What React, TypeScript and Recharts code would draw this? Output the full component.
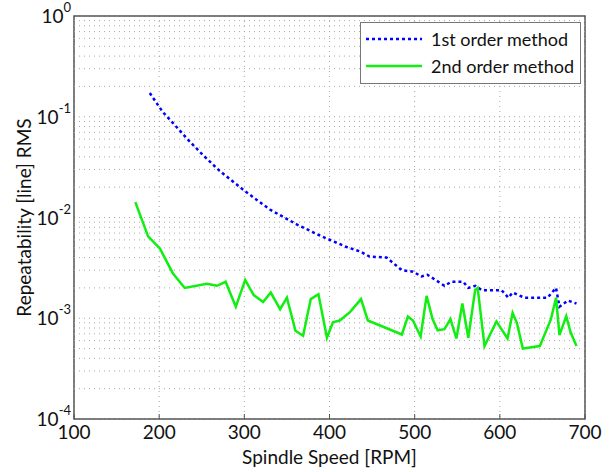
import React from 'react';
import { LineChart, Line, XAxis, YAxis, CartesianGrid, ReferenceLine, ReferenceArea } from 'recharts';

// spindle speed [RPM] / repeatability RMS
const firstOrderSpeed = [189, 204, 216, 234, 251, 271, 301, 330, 362, 389, 420, 436, 447, 467, 485, 498, 508, 515, 535, 543, 557, 563, 571, 579, 602, 610, 615, 629, 656, 666, 670, 680, 690];
const firstOrderRms = [0.172, 0.112, 0.087, 0.059, 0.042, 0.029, 0.0182, 0.012, 0.0085, 0.0066, 0.0051, 0.0046, 0.0041, 0.004, 0.003, 0.0029, 0.0026, 0.0027, 0.0021, 0.0023, 0.0023, 0.002, 0.0021, 0.0019, 0.0019, 0.0016, 0.0018, 0.0016, 0.0016, 0.002, 0.0013, 0.0015, 0.0014];

const secondOrderSpeed = [172, 187, 201, 216, 230, 256, 268, 278, 290, 301, 311, 322, 331, 342, 350, 360, 369, 378, 387, 397, 404, 412, 424, 437, 445, 485, 492, 498, 507, 514, 521, 527, 535, 542, 549, 556, 563, 571, 574, 582, 596, 609, 615, 620, 627, 647, 660, 666, 670, 678, 683, 690];
const secondOrderRms = [0.0142, 0.0065, 0.0049, 0.0028, 0.002, 0.0022, 0.0021, 0.0023, 0.0013, 0.0024, 0.0017, 0.00145, 0.0018, 0.00123, 0.0016, 0.00075, 0.00067, 0.00155, 0.00173, 0.00064, 0.00091, 0.00095, 0.00115, 0.00155, 0.00095, 0.00069, 0.00104, 0.00095, 0.00066, 0.00167, 0.00098, 0.00076, 0.00078, 0.00098, 0.00063, 0.0014, 0.00064, 0.0019, 0.002, 0.00053, 0.00093, 0.00063, 0.00113, 0.0009, 0.0005, 0.00053, 0.00098, 0.0016, 0.00068, 0.00105, 0.00073, 0.00053];

const xTicks = [100, 200, 300, 400, 500, 600, 700];
const decadeExponents = [-4, -3, -2, -1, 0];
const minorMultipliers = [2, 3, 4, 5, 6, 7, 8, 9];

const seriesNames = ['1st order method', '2nd order method'];

const FONT = 'Lato, "Open Sans", sans-serif';
const GRID = '#a8a8a8';

const firstData = firstOrderSpeed.map((x, i) => ({ x, y: firstOrderRms[i] }));
const secondData = secondOrderSpeed.map((x, i) => ({ x, y: secondOrderRms[i] }));
const majorTicks = decadeExponents.map(e => Math.pow(10, e));
const minorTicks = decadeExponents.slice(0, -1).flatMap(e => minorMultipliers.map(m => m * Math.pow(10, e)));
const allYTicks = [...majorTicks, ...minorTicks].sort((a, b) => a - b);

const PowerTick = (props: any) => {
  const { x, y, payload } = props;
  const exp = Math.round(Math.log10(payload.value));
  return (
    <text x={x} y={y + 7} textAnchor="end" fontFamily={FONT} fontSize={19} fill="#111">
      <tspan>10</tspan>
      <tspan dy={-11} fontSize={13}>{exp}</tspan>
    </text>
  );
};

export default function App() {
  return (
    <div style={{ position: 'absolute', left: 0, top: 0, width: 613, height: 472, background: '#fff' }}>
      <LineChart width={613} height={472} data={firstData} margin={{ top: 16, right: 28, left: 0, bottom: 0 }}>
        <CartesianGrid stroke={GRID} strokeDasharray="1 4" />
        {minorTicks.map(v => (
          <ReferenceLine key={v} y={v} stroke={GRID} strokeDasharray="1 4" />
        ))}
        <XAxis
          dataKey="x"
          type="number"
          domain={[100, 700]}
          ticks={xTicks}
          height={53}
          tickSize={-5}
          tickMargin={12}
          axisLine={false}
          stroke="#555"
          tick={{ fontFamily: FONT, fontSize: 19, fill: '#111' }}
          label={{ value: 'Spindle Speed [RPM]', position: 'insideBottom', offset: 8, fontFamily: FONT, fontSize: 19, fill: '#111' }}
        />
        <XAxis xAxisId="top" orientation="top" type="number" domain={[100, 700]} ticks={xTicks} height={0} tickSize={-5} tick={false} axisLine={false} stroke="#555" />
        <YAxis
          type="number"
          scale="log"
          domain={[1e-4, 1]}
          ticks={majorTicks}
          width={74}
          tickSize={0}
          tickMargin={3}
          axisLine={false}
          tickLine={false}
          tick={<PowerTick />}
          allowDataOverflow
          label={{ value: 'Repeatability [line] RMS', angle: -90, position: 'insideLeft', offset: 24, style: { textAnchor: 'middle' }, fontFamily: FONT, fontSize: 19, fill: '#111' }}
        />
        <YAxis yAxisId="right" orientation="right" type="number" scale="log" domain={[1e-4, 1]} ticks={allYTicks} width={0} tickSize={-4} tick={false} axisLine={false} stroke="#555" allowDataOverflow />
        <ReferenceArea x1={100} x2={700} y1={1e-4} y2={1} fill="none" stroke="#555" strokeWidth={1.5} />
        <Line data={firstData} dataKey="y" stroke="#0000ff" strokeWidth={2.5} strokeDasharray="3 3" dot={false} isAnimationActive={false} />
        <Line data={secondData} dataKey="y" stroke="#11ee11" strokeWidth={2.5} dot={false} isAnimationActive={false} />
      </LineChart>
      <div style={{ position: 'absolute', left: 360, top: 22, width: 219, height: 60, border: '1px solid #777', background: '#fff', fontFamily: FONT, fontSize: 18, color: '#111' }}>
        {seriesNames.map((name, i) => (
          <div key={name} style={{ position: 'absolute', left: 4, top: 4 + i * 27, height: 24, display: 'flex', alignItems: 'center', whiteSpace: 'nowrap' }}>
            <svg width={58} height={10} style={{ marginRight: 8 }}>
              <line x1={1} y1={5} x2={57} y2={5} stroke={i === 0 ? '#0000ff' : '#11ee11'} strokeWidth={2.5} strokeDasharray={i === 0 ? '3 3' : undefined} />
            </svg>
            <span>{name}</span>
          </div>
        ))}
      </div>
    </div>
  );
}
